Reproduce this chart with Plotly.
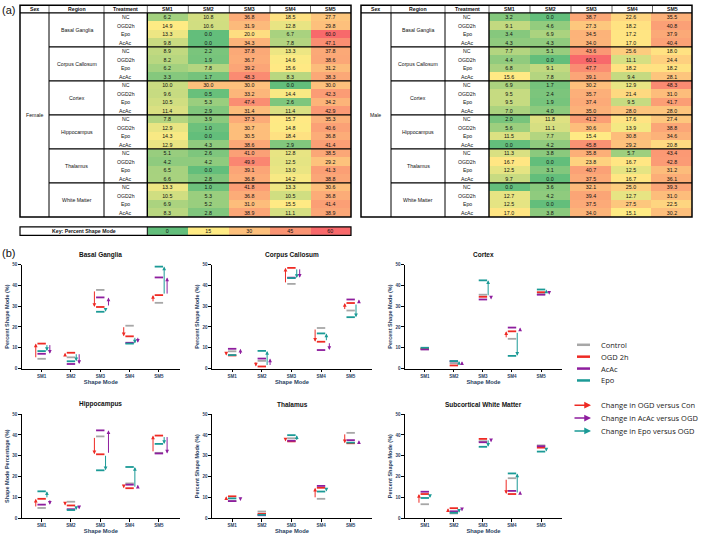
import plotly.graph_objects as go

W, H = 709, 539
FONT = 'Arial, Liberation Sans, sans-serif'

SM = ['SM1', 'SM2', 'SM3', 'SM4', 'SM5']
TREATMENTS = ['NC', 'OGD2h', 'Epo', 'AcAc']
REGIONS = ['Basal Ganglia', 'Corpus Callosum', 'Cortex', 'Hippocampus', 'Thalamus', 'White Matter']

# ---- table (a): rows are NC, OGD2h, Epo, AcAc ----
female_basal = [[6.2, 10.8, 36.8, 18.5, 27.7], [14.9, 10.6, 31.9, 12.8, 29.8],
                [13.3, 0.0, 20.0, 6.7, 60.0], [9.8, 0.0, 34.3, 7.8, 47.1]]
female_callosum = [[8.9, 2.2, 37.8, 13.3, 37.8], [8.2, 1.9, 36.7, 14.6, 38.6],
                   [6.2, 7.8, 39.2, 15.6, 31.2], [3.3, 1.7, 48.3, 8.3, 38.3]]
female_cortex = [[10.0, 30.0, 30.0, 0.0, 30.0], [9.6, 0.5, 33.2, 14.4, 42.3],
                 [10.5, 5.3, 47.4, 2.6, 34.2], [11.4, 2.9, 31.4, 11.4, 42.9]]
female_hippo = [[7.8, 3.9, 37.3, 15.7, 35.3], [12.9, 1.0, 30.7, 14.8, 40.6],
                [14.3, 0.0, 30.5, 18.4, 36.8], [12.9, 4.3, 38.6, 2.9, 41.4]]
female_thalamus = [[5.1, 2.6, 41.0, 12.8, 38.5], [4.2, 4.2, 49.9, 12.5, 29.2],
                   [6.5, 0.0, 39.1, 13.0, 41.3], [6.6, 2.8, 36.8, 14.2, 38.8]]
female_white = [[13.3, 1.0, 41.8, 13.3, 30.6], [10.5, 5.3, 36.8, 10.5, 36.8],
                [6.9, 5.2, 31.0, 15.5, 41.4], [8.3, 2.8, 38.9, 11.1, 38.9]]

male_basal = [[3.2, 0.0, 38.7, 22.6, 35.5], [9.1, 4.6, 27.3, 18.2, 40.8],
              [3.4, 6.9, 34.5, 17.2, 37.9], [4.3, 4.3, 34.0, 17.0, 40.4]]
male_callosum = [[7.7, 5.1, 43.6, 25.6, 18.0], [4.4, 0.0, 60.1, 11.1, 24.4],
                 [6.8, 9.1, 47.7, 18.2, 18.2], [15.6, 7.8, 39.1, 9.4, 28.1]]
male_cortex = [[6.9, 1.7, 30.2, 12.9, 48.3], [9.5, 2.4, 35.7, 21.4, 31.0],
               [9.5, 1.9, 37.4, 9.5, 41.7], [7.0, 4.0, 35.0, 28.0, 28.0]]
male_hippo = [[2.0, 11.8, 41.2, 17.6, 27.4], [5.6, 11.1, 30.6, 13.9, 38.8],
              [11.5, 7.7, 15.4, 30.8, 34.6], [0.0, 4.2, 45.8, 29.2, 20.8]]
male_thalamus = [[11.3, 3.8, 35.8, 5.7, 43.4], [16.7, 0.0, 23.8, 16.7, 42.8],
                 [12.5, 3.1, 40.7, 12.5, 31.2], [9.7, 0.0, 37.5, 16.7, 36.1]]
male_white = [[0.0, 3.6, 32.1, 25.0, 39.3], [12.7, 4.2, 39.4, 12.7, 31.0],
              [12.5, 0.0, 37.5, 27.5, 22.5], [17.0, 3.8, 34.0, 15.1, 30.2]]

key_values = [0, 15, 30, 45, 60]

# ---- plots (b): one row per panel, columns SM1..SM5 ----
PANELS = ['Basal Ganglia', 'Corpus Callosum', 'Cortex',
          'Hippocampus', 'Thalamus', 'Subcortical White Matter']
control = [[4.7, 5.4, 37.8, 20.6, 31.6], [8.3, 3.7, 40.7, 19.5, 27.9], [9.3, 2.6, 35.5, 14.3, 35.8],
           [4.9, 7.9, 39.3, 16.7, 31.4], [8.2, 3.2, 38.4, 9.3, 41.0], [6.7, 2.3, 37.0, 19.2, 35.0]]
ogd = [[12.0, 7.6, 29.6, 15.5, 35.3], [6.3, 1.0, 48.4, 12.9, 31.5], [9.6, 1.5, 34.5, 17.9, 36.7],
       [9.3, 6.1, 30.7, 14.4, 39.7], [10.5, 2.1, 36.9, 14.6, 36.0], [11.6, 4.8, 38.1, 11.6, 33.9]]
acac = [[7.1, 2.2, 34.2, 12.4, 43.8], [9.5, 4.8, 43.7, 8.9, 33.2], [9.2, 3.5, 33.2, 19.7, 35.5],
        [6.5, 4.3, 42.2, 16.1, 31.1], [8.2, 1.4, 37.2, 15.5, 37.5], [12.7, 3.3, 36.5, 13.1, 34.6]]
epo = [[8.4, 3.5, 27.3, 12.0, 49.0], [6.5, 8.5, 43.5, 16.9, 24.7], [10.0, 3.6, 42.4, 6.1, 38.0],
       [12.9, 3.9, 23.0, 24.6, 35.7], [9.5, 1.6, 39.9, 12.8, 36.3], [9.7, 2.6, 34.3, 21.5, 32.0]]

GRAY, RED, PURPLE, TEAL = '#A7A7A7', '#EE2A24', '#8E1E9E', '#1B9A96'
SCALE = [[0, '#63BE7B'], [0.25, '#FFEB84'], [1, '#F8696B']]


def px(p):
    return p / W


def py(p):
    return 1 - p / H


fig = go.Figure()
shapes = []
annotations = []


def line(x0, y0, x1, y1, w=1.0, color='black'):
    shapes.append(dict(type='line', xref='paper', yref='paper', x0=px(x0), y0=py(y0),
                       x1=px(x1), y1=py(y1), line=dict(color=color, width=w)))


def text(x, y, s, size=5.2, bold=False, xref='paper', yref='paper', xanchor='center'):
    # anchors set explicitly: 'auto' shifts paper-referenced text near the edges
    annotations.append(dict(x=x, y=y, xref=xref, yref=yref, text=s, showarrow=False,
                            borderpad=0, xanchor=xanchor, yanchor='middle',
                            font=dict(family=FONT, size=size, color='#111',
                                      weight='bold' if bold else 'normal')))


# ---------- tables ----------
TOP, HEAD, BOTTOM = 3.3, 11, 217
tables = [
    ('Female', [female_basal, female_callosum, female_cortex, female_hippo, female_thalamus, female_white],
     [20, 49, 104, 147.3, 188.3, 229.3, 270, 310.5, 351], ''),
    ('Male', [male_basal, male_callosum, male_cortex, male_hippo, male_thalamus, male_white],
     [361, 391, 445, 489, 530, 571, 612, 652.5, 692], '2'),
]
row_h = (BOTTOM - HEAD) / 24

for sex, blocks, cols, ax in tables:
    z = [row for block in blocks for row in block]
    fig.add_trace(go.Heatmap(z=z, x=SM, y=list(range(24)), xaxis='x' + ax, yaxis='y' + ax,
                             colorscale=SCALE, zmin=0, zmax=60, showscale=False,
                             texttemplate='%{z:.1f}', hoverinfo='skip',
                             textfont=dict(family=FONT, size=5.3, color='#111')))
    fig.update_layout({
        'xaxis' + ax: dict(domain=[px(cols[3]), px(cols[8])], visible=False, range=[-0.5, 4.5]),
        'yaxis' + ax: dict(domain=[py(BOTTOM), py(HEAD)], visible=False, range=[23.5, -0.5]),
    })
    # header
    heads = ['Sex', 'Region', 'Treatment'] + SM
    for i, hname in enumerate(heads):
        text(px((cols[i] + cols[i + 1]) / 2), py((TOP + HEAD) / 2), hname, size=5.2, bold=True)
        if i > 0:
            line(cols[i], TOP, cols[i], HEAD, w=0.6)
    # body labels
    for r in range(24):
        text(px((cols[2] + cols[3]) / 2), r, TREATMENTS[r % 4], yref='y' + ax)
    for k, reg in enumerate(REGIONS):
        text(px((cols[1] + cols[2]) / 2), 4 * k + 1.5, reg, yref='y' + ax)
    text(px((cols[0] + cols[1]) / 2), 11.5, sex, yref='y' + ax)
    # grid lines
    shapes.append(dict(type='rect', xref='paper', yref='paper', x0=px(cols[0]), x1=px(cols[8]),
                       y0=py(BOTTOM), y1=py(TOP), line=dict(color='black', width=1.5)))
    line(cols[0], HEAD, cols[8], HEAD, w=1.2)
    for c in cols[1:3]:
        line(c, HEAD, c, BOTTOM, w=1.0)
    line(cols[3], HEAD, cols[3], BOTTOM, w=1.4)
    for k in range(1, 6):
        yy = HEAD + 4 * k * row_h
        line(cols[1], yy, cols[8], yy, w=1.3)

# key
kcols = [20, 147.3, 351]
fig.add_trace(go.Heatmap(z=[key_values], x=list(range(5)), y=[0], xaxis='x3', yaxis='y3',
                         colorscale=SCALE, zmin=0, zmax=60, showscale=False,
                         texttemplate='%{z}', hoverinfo='skip',
                         textfont=dict(family=FONT, size=5.3, color='#111')))
fig.update_layout(
    xaxis3=dict(domain=[px(kcols[1]), px(kcols[2])], visible=False, range=[-0.5, 4.5]),
    yaxis3=dict(domain=[py(235.5), py(227)], visible=False, range=[-0.5, 0.5]),
)
shapes.append(dict(type='rect', xref='paper', yref='paper', x0=px(kcols[0]), x1=px(kcols[2]),
                   y0=py(235.5), y1=py(227), line=dict(color='black', width=1.2)))
line(kcols[1], 227, kcols[1], 235.5, w=1.0)
text(px((kcols[0] + kcols[1]) / 2), py(231.3), 'Key: Percent Shape Mode', bold=True)

text(px(1), py(8), '(a)', size=11, xanchor='left')
text(px(1), py(253), '(b)', size=11, xanchor='left')

# ---------- dot plots ----------
col_px = [(21.7, 180), (212, 372), (405, 562)]
row_px = [(265, 370), (416, 521)]
xs = [1, 2, 3, 4, 5]

for i, name in enumerate(PANELS):
    r, c = divmod(i, 3)
    n = str(i + 4)
    for vals, color in [(control[i], GRAY), (ogd[i], RED), (acac[i], PURPLE), (epo[i], TEAL)]:
        fig.add_trace(go.Scatter(x=xs, y=vals, mode='markers', xaxis='x' + n, yaxis='y' + n,
                                 showlegend=False, hoverinfo='skip', cliponaxis=False,
                                 marker=dict(symbol='line-ew', size=6,
                                             line=dict(width=1.8, color=color))))
    # change arrows
    for j in range(5):
        for start, end, dx, color in [(control[i][j], ogd[i][j], -0.2, RED),
                                      (ogd[i][j], epo[i][j], 0.18, TEAL),
                                      (ogd[i][j], acac[i][j], 0.28, PURPLE)]:
            if abs(end - start) < 0.3:
                continue
            annotations.append(dict(x=xs[j] + dx, y=end, ax=xs[j] + dx, ay=start,
                                    xref='x' + n, yref='y' + n, axref='x' + n, ayref='y' + n,
                                    text='', showarrow=True, arrowhead=2, arrowsize=0.75,
                                    arrowwidth=1.0, arrowcolor=color, standoff=0))
    ytitle = 'Shape Mode Percentage (%)' if name == 'Hippocampus' else 'Percent Shape Mode (%)'
    fig.update_layout({
        'xaxis' + n: dict(domain=[px(col_px[c][0]), px(col_px[c][1])], anchor='y' + n,
                          range=[0.32, 5.72], tickvals=xs, ticktext=SM, showgrid=False,
                          zeroline=False, showline=True, linecolor='black', linewidth=1.3,
                          ticks='outside', ticklen=2.5, tickwidth=1, tickcolor='black',
                          tickfont=dict(family=FONT, size=4.5, weight='bold'),
                          title=dict(text='Shape Mode', standoff=1,
                                     font=dict(family=FONT, size=5.8, weight='bold'))),
        'yaxis' + n: dict(domain=[py(row_px[r][1]), py(row_px[r][0])], anchor='x' + n,
                          range=[0, 50], tickvals=[0, 10, 20, 30, 40, 50], showgrid=False,
                          zeroline=False, showline=True, linecolor='black', linewidth=1.3,
                          ticks='outside', ticklen=2.5, tickwidth=1, tickcolor='black',
                          tickfont=dict(family=FONT, size=4.5, weight='bold'),
                          title=dict(text=ytitle, standoff=2,
                                     font=dict(family=FONT, size=5.5, weight='bold'))),
    })
    text(px(sum(col_px[c]) / 2), py(row_px[r][0] - 10), name, size=6.5, bold=True)

# ---------- legend ----------
LEG = 'Open Sans, Arial, sans-serif'
for yy, label, color in [(346, 'Control', GRAY), (358, 'OGD 2h', RED),
                         (370, 'AcAc', PURPLE), (382, 'Epo', TEAL)]:
    line(577, yy, 590, yy, w=2.5, color=color)
    annotations.append(dict(x=px(600), y=py(yy), xref='paper', yref='paper', text=label,
                            showarrow=False, xanchor='left', yanchor='middle', borderpad=0,
                            font=dict(family=LEG, size=7.5, color='#222')))
for yy, label, color in [(407, 'Change in OGD versus Con', RED),
                         (420, 'Change in AcAc versus OGD', PURPLE),
                         (433, 'Change in Epo versus OGD', TEAL)]:
    annotations.append(dict(x=px(591), y=py(yy), ax=-18, ay=0, xref='paper', yref='paper',
                            text='', showarrow=True, arrowhead=2, arrowsize=0.9,
                            arrowwidth=1.5, arrowcolor=color, standoff=0))
    annotations.append(dict(x=px(600), y=py(yy), xref='paper', yref='paper', text=label,
                            showarrow=False, xanchor='left', yanchor='middle', borderpad=0,
                            font=dict(family=LEG, size=7.5, color='#222')))

fig.update_layout(width=W, height=H, margin=dict(l=0, r=0, t=0, b=0),
                  paper_bgcolor='white', plot_bgcolor='white',
                  shapes=shapes, annotations=annotations, showlegend=False)

# drop the default page margin so the figure sits at the window's corner
fig.write_html("out.html", config={'displayModeBar': False},
               post_script="document.body.style.margin='0';")
